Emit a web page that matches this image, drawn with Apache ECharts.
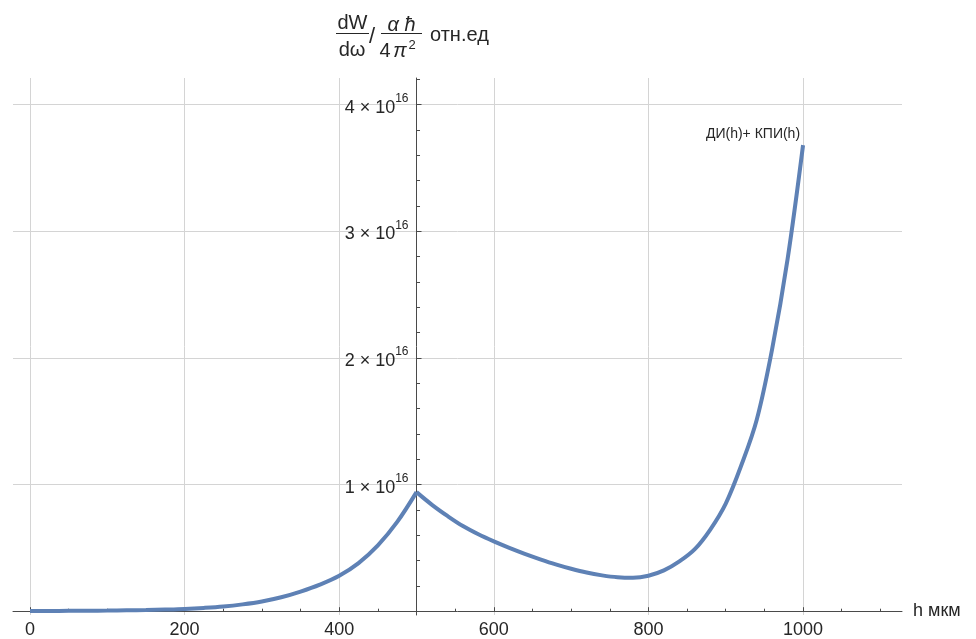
<!DOCTYPE html>
<html>
<head>
<meta charset="utf-8">
<script src="https://cdn.jsdelivr.net/npm/echarts@6/dist/echarts.min.js"></script>
<style>
  html, body { margin: 0; padding: 0; background: #fff; }
  #chart { width: 976px; height: 639px; }
</style>
</head>
<body>
<div id="chart"></div>
<script>
// Spectral density vs. thickness h (мкм): the sum ДИ(h) + КПИ(h), piecewise around h = 500
const hLeft = [0, 25, 50, 75, 100, 125, 150, 175, 200, 225, 250, 275, 300, 325, 350,
               375, 400, 425, 450, 475, 500];
const wLeft = [0.002e16, 0.002e16, 0.003e16, 0.004e16, 0.005e16, 0.007e16, 0.009e16,
               0.013e16, 0.018e16, 0.026e16, 0.037e16, 0.054e16, 0.077e16, 0.11e16,
               0.155e16, 0.21e16, 0.28e16, 0.38e16, 0.52e16, 0.705e16, 0.94e16];

const hRight = [500, 520, 540, 560, 580, 600, 620, 640, 660, 680, 700, 720, 740, 760,
                780, 800, 820, 840, 860, 880, 900, 920, 940, 960, 980, 1000];
const wRight = [0.94e16, 0.84e16, 0.752e16, 0.672e16, 0.607e16, 0.551e16, 0.50e16,
                0.453e16, 0.41e16, 0.37e16, 0.335e16, 0.305e16, 0.283e16, 0.268e16,
                0.264e16, 0.28e16, 0.322e16, 0.393e16, 0.49e16, 0.645e16, 0.85e16,
                1.15e16, 1.51e16, 2.07e16, 2.78e16, 3.68e16];

const seriesLabel = 'ДИ(h)+ КПИ(h)';

// Tick values
const xTicks = [0, 200, 400, 600, 800, 1000];
const xMinorTicks = [50, 100, 150, 250, 300, 350, 450, 500, 550, 650, 700, 750, 850, 900, 950, 1050, 1100];
const yTicks = [0, 1e16, 2e16, 3e16, 4e16];
const yLabelTicks = [1e16, 2e16, 3e16, 4e16];
const yMinorTicks = [0.2e16, 0.4e16, 0.6e16, 0.8e16, 1.2e16, 1.4e16, 1.6e16, 1.8e16,
                     2.2e16, 2.4e16, 2.6e16, 2.8e16, 3.2e16, 3.4e16, 3.6e16, 3.8e16, 4.2e16];

// Axis ranges; the vertical axis crosses the horizontal one at h = 500
const xMin = -22, xMax = 1128;
const yMin = -0.03e16, yMax = 4.21e16;
const axisOriginX = 500;

const FONT = '"Liberation Sans", Arial, sans-serif';
const TEXT = '#262626';
const AXIS = '#4a4a4a';
const GRIDC = '#d4d4d4';
const LINE = '#5e81b5';

const gridBox = { left: 13, right: 74, top: 78, bottom: 22 };
const gridWidth = 976 - gridBox.left - gridBox.right;
const yAxisOffset = -(axisOriginX - xMin) / (xMax - xMin) * gridWidth;

const toPairs = (xs, ys) => xs.map((x, i) => [x, ys[i]]);

const chart = echarts.init(document.getElementById('chart'), null, { renderer: 'canvas' });

const lineStyle = { color: LINE, width: 4 };

chart.setOption({
  animation: false,
  backgroundColor: '#fff',
  grid: gridBox,
  xAxis: [{
    type: 'value',
    min: xMin, max: xMax,
    name: 'h мкм',
    nameLocation: 'end',
    nameGap: 11,
    nameTextStyle: { fontFamily: FONT, fontSize: 18, color: TEXT, verticalAlign: 'middle' },
    axisLine: { show: true, onZero: true, lineStyle: { color: AXIS, width: 1 } },
    axisTick: { show: true, inside: true, length: 4, customValues: xTicks, lineStyle: { color: AXIS } },
    axisLabel: {
      customValues: xTicks, margin: 6,
      formatter: v => String(v),
      fontFamily: FONT, fontSize: 18, color: TEXT
    },
    splitLine: { show: true, lineStyle: { color: GRIDC, width: 1 } }
  }, {
    type: 'value',
    min: xMin, max: xMax,
    position: 'bottom',
    axisLine: { show: false, onZero: true },
    axisTick: { show: true, inside: true, length: 2.5, customValues: xMinorTicks, lineStyle: { color: AXIS } },
    axisLabel: { show: false },
    splitLine: { show: false }
  }],
  yAxis: [{
    type: 'value',
    min: yMin, max: yMax,
    position: 'left',
    offset: yAxisOffset,
    axisLine: { show: true, onZero: false, lineStyle: { color: AXIS, width: 1 } },
    axisTick: { show: true, inside: true, length: 5, customValues: yTicks, lineStyle: { color: AXIS } },
    axisLabel: {
      customValues: yLabelTicks,
      margin: 8,
      formatter: v => `{m|${Math.round(v / 1e16)} × 10}{s|16}`,
      rich: {
        m: { fontFamily: FONT, fontSize: 18, lineHeight: 24, verticalAlign: 'bottom', color: TEXT },
        s: { fontFamily: FONT, fontSize: 12, lineHeight: 24, verticalAlign: 'top', color: TEXT }
      }
    },
    splitLine: { show: true, lineStyle: { color: GRIDC, width: 1 } }
  }, {
    type: 'value',
    min: yMin, max: yMax,
    position: 'left',
    offset: yAxisOffset,
    axisLine: { show: false, onZero: false },
    axisTick: { show: true, inside: true, length: 3.5, customValues: yMinorTicks, lineStyle: { color: AXIS } },
    axisLabel: { show: false },
    splitLine: { show: false }
  }],
  series: [{
    name: seriesLabel,
    type: 'line',
    xAxisIndex: 0, yAxisIndex: 0,
    data: toPairs(hLeft, wLeft),
    showSymbol: false, symbol: 'none',
    smooth: 0.35,
    lineStyle: lineStyle,
    z: 5
  }, {
    name: seriesLabel,
    type: 'line',
    xAxisIndex: 0, yAxisIndex: 0,
    data: toPairs(hRight, wRight),
    showSymbol: false, symbol: 'none',
    smooth: 0.35,
    lineStyle: lineStyle,
    z: 5,
    markPoint: {
      symbol: 'circle',
      symbolSize: 1,
      itemStyle: { color: 'rgba(0,0,0,0)' },
      label: {
        show: true,
        formatter: seriesLabel,
        position: 'top',
        distance: 3,
        align: 'right',
        offset: [-3, 0],
        fontFamily: FONT, fontSize: 14, color: TEXT
      },
      data: [{ coord: [hRight[hRight.length - 1], wRight[wRight.length - 1]] }]
    }
  }],
  // Axis title: dW/dω / (αħ / 4π²) отн.ед
  graphic: [
    { type: 'text', x: 352.5, y: 23, style: { text: 'dW', font: `20px ${FONT}`, fill: TEXT, align: 'center', verticalAlign: 'middle', textAlign: 'center', textVerticalAlign: 'middle' } },
    { type: 'line', shape: { x1: 336, y1: 33.5, x2: 369, y2: 33.5 }, style: { stroke: TEXT, lineWidth: 1 } },
    { type: 'text', x: 352, y: 50.5, style: { text: 'dω', font: `20px ${FONT}`, fill: TEXT, align: 'center', verticalAlign: 'middle', textAlign: 'center', textVerticalAlign: 'middle' } },
    { type: 'text', x: 372, y: 37, style: { text: '/', font: `22px ${FONT}`, fill: TEXT, align: 'center', verticalAlign: 'middle', textAlign: 'center', textVerticalAlign: 'middle' } },
    { type: 'text', x: 401.5, y: 25, style: { text: 'α ħ', font: `italic 20px ${FONT}`, fill: TEXT, align: 'center', verticalAlign: 'middle', textAlign: 'center', textVerticalAlign: 'middle' } },
    { type: 'line', shape: { x1: 381, y1: 33.5, x2: 422, y2: 33.5 }, style: { stroke: TEXT, lineWidth: 1 } },
    { type: 'text', x: 385, y: 51, style: { text: '4', font: `20px ${FONT}`, fill: TEXT, align: 'center', verticalAlign: 'middle', textAlign: 'center', textVerticalAlign: 'middle' } },
    { type: 'text', x: 400, y: 51, style: { text: 'π', font: `italic 20px ${FONT}`, fill: TEXT, align: 'center', verticalAlign: 'middle', textAlign: 'center', textVerticalAlign: 'middle' } },
    { type: 'text', x: 412, y: 45, style: { text: '2', font: `13px ${FONT}`, fill: TEXT, align: 'center', verticalAlign: 'middle', textAlign: 'center', textVerticalAlign: 'middle' } },
    { type: 'text', x: 430, y: 35, style: { text: 'отн.ед', font: `20px ${FONT}`, fill: TEXT, align: 'left', verticalAlign: 'middle', textAlign: 'left', textVerticalAlign: 'middle' } }
  ]
});
</script>
</body>
</html>
